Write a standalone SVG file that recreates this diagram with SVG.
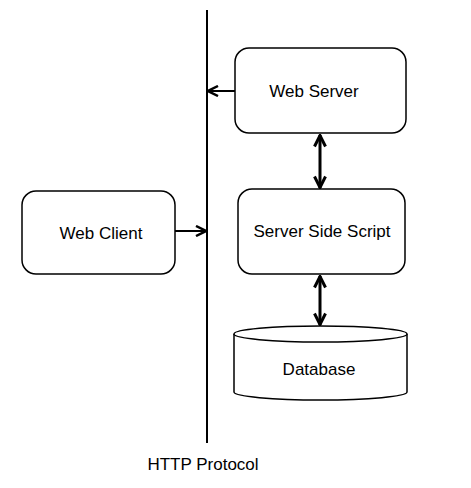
<svg xmlns="http://www.w3.org/2000/svg" width="471" height="488" viewBox="0 0 471 488">
<defs>
<style>
.box{fill:#fff;stroke:#000;stroke-width:1.5}
.lbl{font-family:"Liberation Sans",Arial,sans-serif;font-size:17px;fill:#000;text-anchor:middle}
.ln{stroke:#000;fill:none}
</style>
<marker id="ah" viewBox="0 0 12 12" refX="11" refY="6" markerWidth="12" markerHeight="12" markerUnits="userSpaceOnUse" orient="auto-start-reverse">
<path d="M1,1 L11,6 L1,11" fill="none" stroke="#000" stroke-width="2.5"/>
</marker>
<marker id="ah2" viewBox="0 0 14 14" refX="13" refY="7" markerWidth="14" markerHeight="14" markerUnits="userSpaceOnUse" orient="auto-start-reverse">
<path d="M1.5,1.5 L12.5,7 L1.5,12.5" fill="none" stroke="#000" stroke-width="3"/>
</marker>
</defs>
<rect width="471" height="488" fill="#fff"/>
<g id="http">
<line class="ln" x1="207" y1="10" x2="207" y2="443" stroke-width="2"/>
<text class="lbl" x="203" y="470" font-size="16">HTTP Protocol</text>
</g>
<g id="webserver">
<rect class="box" x="235" y="48" width="171" height="85" rx="14"/>
<text class="lbl" x="314" y="97">Web Server</text>
</g>
<g id="webclient">
<rect class="box" x="22" y="191" width="153" height="83" rx="14"/>
<text class="lbl" x="101" y="239">Web Client</text>
</g>
<g id="script">
<rect class="box" x="238" y="189" width="167" height="85" rx="14"/>
<text class="lbl" x="322" y="237">Server Side Script</text>
</g>
<g id="database">
<path class="box" d="M234,334 L234,392 A86.5,8 0 0 0 407,392 L407,334"/>
<ellipse class="box" cx="320.5" cy="334" rx="86.5" ry="8"/>
<text class="lbl" x="319" y="375">Database</text>
</g>
<g id="connectors">
<line class="ln" x1="235" y1="91" x2="208" y2="91" stroke-width="2" marker-end="url(#ah)"/>
<line class="ln" x1="175" y1="231" x2="206" y2="231" stroke-width="2" marker-end="url(#ah)"/>
<line class="ln" x1="320" y1="135" x2="320" y2="188" stroke-width="3" marker-start="url(#ah2)" marker-end="url(#ah2)"/>
<line class="ln" x1="320" y1="276" x2="320" y2="325" stroke-width="3" marker-start="url(#ah2)" marker-end="url(#ah2)"/>
</g>
</svg>
